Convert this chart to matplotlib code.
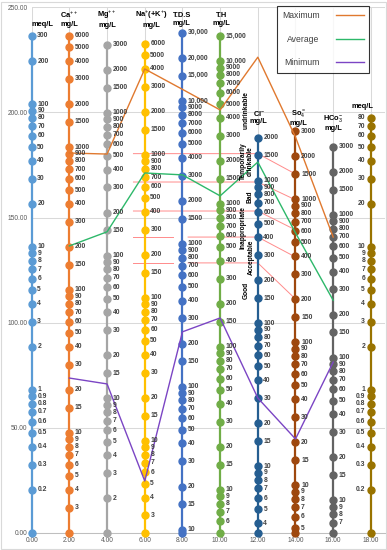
import numpy as np
import matplotlib
matplotlib.use("Agg")
import matplotlib.pyplot as plt
from matplotlib.patches import Rectangle

plt.rcParams["font.family"] = ["Liberation Sans", "DejaVu Sans"]
plt.rcParams["mathtext.fontset"] = "custom"
plt.rcParams["mathtext.rm"] = "Liberation Sans"
plt.rcParams["mathtext.it"] = "Liberation Sans:italic"
plt.rcParams["mathtext.bf"] = "Liberation Sans:bold"

# ---------------- scale columns (last value = unlabeled bottom dot) ----------------
meq_left = [300, 200, 100, 90, 80, 70, 60, 50, 40, 30, 20, 10, 9, 8, 7, 6, 5, 4, 3, 2,
            1, 0.9, 0.8, 0.7, 0.6, 0.5, 0.4, 0.3, 0.2, 0.1]
ca_vals = [6000, 5000, 4000, 3000, 2000, 1500, 1000, 900, 800, 700, 600, 500, 400, 300, 200,
           150, 100, 90, 80, 70, 60, 50, 40, 30, 20, 15, 10, 9, 8, 7, 6, 5, 4, 3, 2]
mg_vals = [3000, 2000, 1500, 1000, 900, 800, 700, 600, 500, 400, 300, 200, 150, 100, 90, 80,
           70, 60, 50, 40, 30, 20, 15, 10, 9, 8, 7, 6, 5, 4, 3, 2, 1.15]
na_vals = [6000, 5000, 4000, 3000, 2000, 1500, 1000, 900, 800, 700, 600, 500, 400, 300, 200,
           150, 100, 90, 80, 70, 60, 50, 40, 30, 20, 15, 10, 9, 8, 7, 6, 5, 4, 3, 2.27]
tds_vals = [30000, 20000, 15000, 10000, 9000, 8000, 7000, 6000, 5000, 4000, 3000, 2000, 1500,
            1000, 900, 800, 700, 600, 500, 400, 300, 200, 150, 100, 90, 80, 70, 60, 50, 40,
            30, 20, 15, 10, 9.5]
th_vals = [15000, 10000, 9000, 8000, 7000, 6000, 5000, 4000, 3000, 2000, 1500, 1000, 900, 800,
           700, 600, 500, 400, 300, 200, 150, 100, 90, 80, 70, 60, 50, 40, 30, 20, 15, 10, 9,
           8, 7, 6, 5]
cl_vals = [2000, 1500, 1000, 900, 800, 700, 600, 500, 400, 300, 200, 150, 100, 90, 80, 70, 60,
           50, 40, 30, 20, 15, 10, 9, 8, 7, 6, 5, 4, 3.43]
so4_vals = [3000, 2000, 1500, 1000, 900, 800, 700, 600, 500, 400, 300, 200, 150, 100, 90, 80,
            70, 60, 50, 40, 30, 20, 15, 10, 9, 8, 7, 6, 5, 4.65]
hco3_vals = [3000, 2000, 1500, 1000, 900, 800, 700, 600, 500, 400, 300, 200, 150, 100, 90, 80,
             70, 60, 50, 40, 30, 20, 15, 10, 9, 8, 7, 5.95]
meq_right = [80, 70, 60, 50, 40, 30, 20, 10, 9, 8, 7, 6, 5, 4, 3, 2, 1, 0.9, 0.8, 0.7, 0.6,
             0.5, 0.4, 0.3, 0.2, 0.1]

# mg/L per meq/L factor used for each column, x position, colour, header
col_values = [meq_left, ca_vals, mg_vals, na_vals, tds_vals, th_vals, cl_vals, so4_vals,
              hco3_vals, meq_right]
col_factor = [1, 20, 11.5, 22.7, 95, 50, 34.3, 46.5, 59.5, 1]
col_x = [0, 2, 4, 6, 8, 10, 12, 14, 16, 18]
col_colors = ["#5B9BD5", "#ED7D31", "#A5A5A5", "#FFC000", "#4472C4", "#70AD47",
              "#255E91", "#9E480E", "#636363", "#997300"]
headers = ["meq/L", "Ca$^{++}$\nmg/L", "Mg$^{++}$\nmg/L", "Na$^{+}$(+K$^{+}$)\nmg/L",
           "T.D.S\nmg/L", "T.H\nmg/L", "Cl$^{-}$\nmg/L", "So$_{4}^{=}$\nmg/L",
           "HCo$_{3}^{-}$\nmg/L", "meq/L"]
header_pos = [(0.55, 241.7), (2.0, 244.4), (4.0, 244.4), (6.34, 244.4), (7.96, 244.4),
              (10.08, 244.4), (12.05, 197.8), (14.17, 197.5), (16.0, 195.2), (17.54, 202.8)]

# ---------------- water-sample lines (chart y units) ----------------
ion_x = [2, 4, 6, 8, 10, 12, 14, 16]
max_y = [180.7, 180.2, 220.7, 211.0, 201.2, 226.3, 188.3, 140.7]
avg_y = [136.5, 143.2, 171.2, 170.3, 160.3, 176.4, 142.7, 110.6]
min_y = [73.6, 70.8, 24.6, 95.6, 102.2, 64.1, 44.6, 81.2]

# ---------------- drinking-quality boundary lines ----------------
bound_level = [180.4, 166.9, 153.1, 140.7, 128.4]
bound_so4 = [170.7, 158.4, 144.1, 131.2, 111.2]
bound_gap = [False, False, False, True, True]
quality_names = ["undrinkable", "Temporarily\ndrinkable", "Bad", "Inappropriate",
                 "Acceptable", "Good"]
quality_pos = [(11.38, 201.2), (11.42, 176.9), (11.59, 159.8), (11.22, 145.0),
               (11.65, 131.2), (11.38, 115.5)]


def to_y(v, f):
    return 68.0 * (np.log10(np.asarray(v, dtype=float) / f) + 1.0)


def fmt(v):
    if v >= 10000:
        return f"{int(v):,}"
    if v >= 1:
        return f"{int(v)}"
    return f"{v:g}"


fig = plt.figure(figsize=(3.87, 5.50), dpi=100)
ax = fig.add_axes([31.7 / 387, 17.3 / 550, (385 - 31.7) / 387, 525.3 / 550])
ax.set_xlim(0, 18.75)
ax.set_ylim(0, 250)

# grid
ax.set_yticks(np.arange(0, 251, 50))
ax.set_xticks(np.arange(0, 19, 2))
ax.set_yticklabels([f"{v:.2f}" for v in np.arange(0, 251, 50)])
ax.set_xticklabels([f"{v:.2f}" for v in np.arange(0, 19, 2)])
ax.grid(True, color="#D9D9D9", linewidth=0.75, zorder=0)
ax.set_axisbelow(True)
for s in ["left", "right", "top"]:
    ax.spines[s].set_visible(False)
ax.spines["bottom"].set_color("#BFBFBF")
ax.spines["bottom"].set_linewidth(0.75)
ax.tick_params(length=0, labelsize=4.8, colors="#595959", pad=3)

# columns
for i, (vals, f, x, c) in enumerate(zip(col_values, col_factor, col_x, col_colors)):
    ys = to_y(vals, f)
    ax.plot([x] * len(ys), ys, color=c, lw=1.6, marker="o", ms=5.0, mec=c, mfc=c,
            zorder=3, clip_on=False)
    right = (i == len(col_values) - 1)
    for v, y in zip(vals[:-1], ys[:-1]):
        ax.annotate(fmt(v), (x, y), xytext=(-4.2 if right else 4.0, 0),
                    textcoords="offset points", ha="right" if right else "left",
                    va="center", fontsize=4.9, fontweight="bold", color="#404040",
                    zorder=5, annotation_clip=False)
    hx, hy = header_pos[i]
    ax.text(hx, hy, headers[i], ha="center", va="center", fontsize=5.4,
            fontweight="bold", color="black", linespacing=1.15, zorder=6)

# quality boundary lines
for lev, s, gap in zip(bound_level, bound_so4, bound_gap):
    if gap:
        ax.plot([5.4, 7.5], [lev, lev], color="#FF8B8B", lw=0.7, zorder=2)
        ax.plot([8.3, 12, 14], [lev, lev, s], color="#FF8B8B", lw=0.7, zorder=2)
    else:
        ax.plot([5.4, 12, 14], [lev, lev, s], color="#FF8B8B", lw=0.7, zorder=2)

for name, (qx, qy) in zip(quality_names, quality_pos):
    ax.text(qx, qy, name, rotation=90, ha="center", va="center", fontsize=4.8,
            fontweight="bold", color="black", linespacing=0.95, zorder=6)

# sample lines
l_max, = ax.plot(ion_x, max_y, color="#E0792F", lw=1.0, zorder=4)
l_avg, = ax.plot(ion_x, avg_y, color="#2DB86A", lw=1.0, zorder=4)
l_min, = ax.plot(ion_x, min_y, color="#7B45C4", lw=1.0, zorder=4)

leg = ax.legend([l_max, l_avg, l_min], ["Maximum", "Average", "Minimum"],
                loc="upper left", bbox_to_anchor=(277 / 387, 1 - 6 / 550),
                bbox_transform=fig.transFigure, borderaxespad=0, markerfirst=False,
                fontsize=6.2, frameon=True, fancybox=False, handlelength=3.2,
                handletextpad=1.9, labelspacing=1.7, borderpad=0.6)
leg.get_frame().set_edgecolor("black")
leg.get_frame().set_linewidth(0.8)
for t in leg.get_texts():
    t.set_color("#404040")
leg.set_zorder(10)

fig.patches.append(Rectangle((0.003, 0.002), 0.994, 0.995, transform=fig.transFigure,
                             fill=False, edgecolor="#D9D9D9", linewidth=0.8))

fig.savefig("out.png", dpi=100)
